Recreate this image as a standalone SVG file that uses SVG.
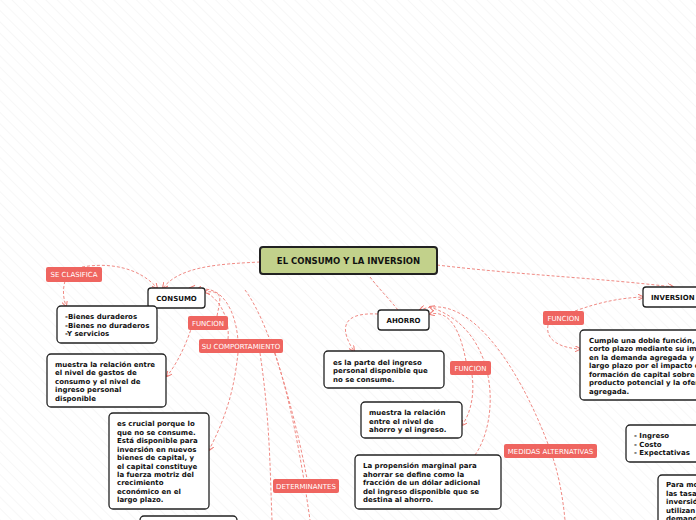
<svg xmlns="http://www.w3.org/2000/svg" width="696" height="520" viewBox="0 0 696 520">
<defs>
<pattern id="bg" width="8" height="8" patternUnits="userSpaceOnUse" patternTransform="rotate(-45)">
<rect width="8" height="8" fill="#fff"/><line x1="0" y1="0" x2="0" y2="8" stroke="#f0f0f0" stroke-width="1"/>
</pattern>
<marker id="a" viewBox="0 0 6 6" refX="5" refY="3" markerWidth="6" markerHeight="6" orient="auto"><path d="M0,0L6,3L0,6" fill="none" stroke="#f07c76" stroke-width="1"/></marker>
<style>
.c{fill:none;stroke:#f08a84;stroke-width:1;stroke-dasharray:3,2}
.n{fill:#fff;stroke:#222;stroke-width:1.3}
.l{fill:#ef6560}
.t{font-family:"DejaVu Sans",sans-serif;font-weight:bold;font-size:7px;fill:#111}
.lt{font-family:"DejaVu Sans",sans-serif;font-size:7px;fill:#fff}
</style>
</defs>
<rect width="696" height="520" fill="url(#bg)"/>
<g id="connectors">
<path class="c" d="M260,262 C220,264 180,266 163,288" marker-end="url(#a)"/>
<path class="c" d="M437,265 C520,275 600,278 673,287" marker-end="url(#a)"/>
<path class="c" d="M82,267 C110,262 140,268 157,288" marker-end="url(#a)"/>
<path class="c" d="M65,281 C62,292 64,300 66,306" marker-end="url(#a)"/>
<path class="c" d="M195,316 C190,335 180,360 167,376" marker-end="url(#a)"/>
<path class="c" d="M238,353 C235,380 230,410 209,450" marker-end="url(#a)"/>
<path class="c" d="M228,339 C230,320 220,290 190,288" marker-end="url(#a)"/>
<path class="c" d="M217,316 C220,300 225,290 205,292" marker-end="url(#a)"/>
<path class="c" d="M238,353 C240,330 230,282 197,290" marker-end="url(#a)"/>
<path class="c" d="M260,353 C270,420 270,470 272,520"/>
<path class="c" d="M275,353 C290,400 300,450 310,520"/>
<path class="c" d="M245,290 C275,330 300,440 307,479"/>
<path class="c" d="M370,277 C380,290 390,300 398,310"/>
<path class="c" d="M378,314 C340,312 340,330 354,351" marker-end="url(#a)"/>
<path class="c" d="M466,361 C460,330 450,310 430,314" marker-end="url(#a)"/>
<path class="c" d="M472,375 C475,395 470,415 462,425" marker-end="url(#a)"/>
<path class="c" d="M475,455 C500,420 500,330 430,307" marker-end="url(#a)"/>
<path class="c" d="M548,444 C520,370 470,290 420,310" marker-end="url(#a)"/>
<path class="c" d="M553,458 C560,480 563,500 565,520"/>
<path class="c" d="M575,311 C600,302 620,298 643,297" marker-end="url(#a)"/>
<path class="c" d="M548,325 C545,340 560,348 580,349" marker-end="url(#a)"/>
</g>
<g id="central"><rect x="260" y="247" width="177" height="27" rx="3" fill="#c2d18b" stroke="#222" stroke-width="2"/><text class="t" x="348.5" y="264" text-anchor="middle" style="font-size:8.5px">EL CONSUMO Y LA INVERSION</text></g>
<g id="consumo"><rect class="n" x="148" y="288" width="57" height="20" rx="3"/><text class="t" x="176.5" y="301" text-anchor="middle">CONSUMO</text></g>
<g id="seclasifica"><rect class="l" x="46" y="267" width="56" height="15" rx="2"/><text class="lt" x="74" y="277" text-anchor="middle">SE CLASIFICA</text></g>
<g id="bienes"><rect class="n" x="57" y="306" width="100" height="37" rx="4"/><text class="t" x="65" y="319">-Bienes duraderos</text><text class="t" x="65" y="328">-Bienes no duraderos</text><text class="t" x="65" y="336">-Y servicios</text></g>
<g id="funcion1"><rect class="l" x="188" y="316" width="40" height="14" rx="2"/><text class="lt" x="208" y="326" text-anchor="middle">FUNCION</text></g>
<g id="sucomp"><rect class="l" x="199" y="339" width="84" height="14" rx="2"/><text class="lt" x="241" y="349" text-anchor="middle">SU COMPORTAMIENTO</text></g>
<g id="muestra1"><rect class="n" x="47" y="354" width="119" height="53" rx="4"/><text class="t" x="55" y="367">muestra la relación entre</text><text class="t" x="55" y="375">el nivel de gastos de</text><text class="t" x="55" y="384">consumo y el nivel de</text><text class="t" x="55" y="392">ingreso personal</text><text class="t" x="55" y="401">disponible</text></g>
<g id="crucial"><rect class="n" x="109" y="413" width="100" height="96" rx="4"/><text class="t" x="117" y="426">es crucial porque lo</text><text class="t" x="117" y="435">que no se consume.</text><text class="t" x="117" y="443">Está disponible para</text><text class="t" x="117" y="452">inversión en nuevos</text><text class="t" x="117" y="460">bienes de capital, y</text><text class="t" x="117" y="469">el capital constituye</text><text class="t" x="117" y="477">la fuerza motriz del</text><text class="t" x="117" y="485">crecimiento</text><text class="t" x="117" y="494">económico en el</text><text class="t" x="117" y="502">largo plazo.</text></g>
<g id="bottombox"><rect class="n" x="140" y="516" width="97" height="20" rx="4"/></g>
<g id="determinantes"><rect class="l" x="273" y="479" width="66" height="14" rx="2"/><text class="lt" x="306" y="489" text-anchor="middle">DETERMINANTES</text></g>
<g id="ahorro"><rect class="n" x="378" y="310" width="51" height="20" rx="3"/><text class="t" x="403.5" y="323" text-anchor="middle">AHORRO</text></g>
<g id="parte"><rect class="n" x="324" y="351" width="120" height="37" rx="4"/><text class="t" x="333" y="365">es la parte del ingreso</text><text class="t" x="333" y="373">personal disponible que</text><text class="t" x="333" y="382">no se consume.</text></g>
<g id="funcion2"><rect class="l" x="450" y="361" width="41" height="14" rx="2"/><text class="lt" x="470.5" y="371" text-anchor="middle">FUNCION</text></g>
<g id="muestra2"><rect class="n" x="361" y="402" width="101" height="36" rx="4"/><text class="t" x="369" y="415">muestra la relación</text><text class="t" x="369" y="424">entre el nivel de</text><text class="t" x="369" y="432">ahorro y el ingreso.</text></g>
<g id="medidas"><rect class="l" x="504" y="444" width="93" height="14" rx="2"/><text class="lt" x="550.5" y="454" text-anchor="middle">MEDIDAS ALTERNATIVAS</text></g>
<g id="propension"><rect class="n" x="355" y="455" width="146" height="54" rx="4"/><text class="t" x="363" y="468">La propensión marginal para</text><text class="t" x="363" y="477">ahorrar se define como la</text><text class="t" x="363" y="485">fracción de un dólar adicional</text><text class="t" x="363" y="494">del ingreso disponible que se</text><text class="t" x="363" y="502">destina al ahorro.</text></g>
<g id="inversion"><rect class="n" x="643" y="287" width="60" height="20" rx="3"/><text class="t" x="651" y="300">INVERSION</text></g>
<g id="funcion3"><rect class="l" x="543" y="311" width="41" height="14" rx="2"/><text class="lt" x="563.5" y="321" text-anchor="middle">FUNCION</text></g>
<g id="cumple"><rect class="n" x="580" y="330" width="130" height="70" rx="4"/><text class="t" x="589" y="343">Cumple una doble función, a</text><text class="t" x="589" y="351">corto plazo mediante su impacto</text><text class="t" x="589" y="360">en la demanda agregada y a</text><text class="t" x="589" y="368">largo plazo por el impacto de la</text><text class="t" x="589" y="377">formación de capital sobre el</text><text class="t" x="589" y="385">producto potencial y la oferta</text><text class="t" x="589" y="394">agregada.</text></g>
<g id="ingreso"><rect class="n" x="626" y="425" width="76" height="37" rx="4"/><text class="t" x="634" y="438">- Ingreso</text><text class="t" x="634" y="447">- Costo</text><text class="t" x="634" y="455">- Expectativas</text></g>
<g id="para"><rect class="n" x="658" y="475" width="60" height="60" rx="4"/><text class="t" x="666" y="487">Para modificar</text><text class="t" x="666" y="496">las tasas de</text><text class="t" x="666" y="504">inversión se</text><text class="t" x="666" y="513">utilizan</text><text class="t" x="666" y="521">demanda</text></g>
</svg>
